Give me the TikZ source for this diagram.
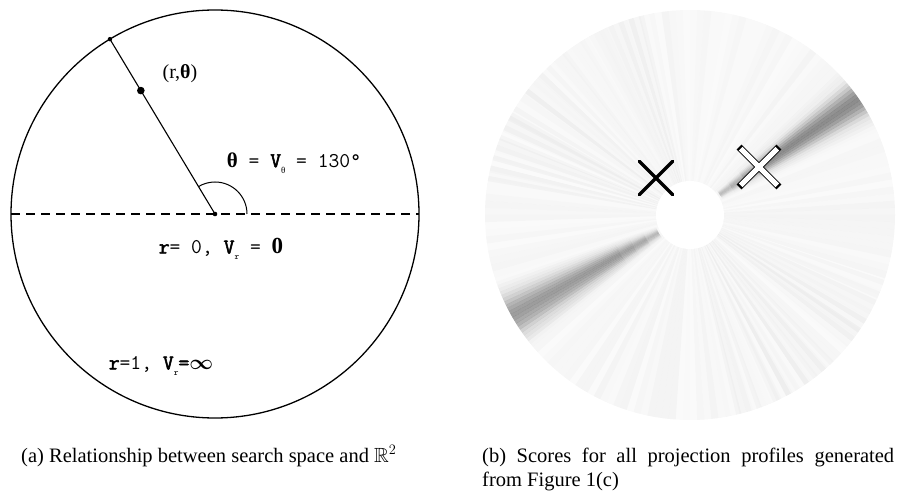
\documentclass[tikz,border=0pt]{standalone}
\usepackage{amsmath,amssymb}
\usepackage{fontspec}
\setmainfont{Liberation Serif}
\newfontfamily\ttheavy{Latin Modern Mono}[FakeBold=2.5]
\usetikzlibrary{shapes.misc}

% small lowered subscript and heavy letters for the mono labels
\newcommand{\lowsub}[1]{\raisebox{-0.7ex}{\fontsize{9}{9}\selectfont #1}}
\newcommand{\hv}[1]{{\ttheavy #1}}

\begin{document}
\begin{tikzpicture}[x=1pt, y=1pt,
  lbl/.style={inner sep=0pt, font=\fontsize{21}{24}\ttfamily},
  capt/.style={inner sep=0pt, font=\fontsize{20.5}{24.5}\selectfont},
  rim/.style={line width=1.3pt},
  axis/.style={line width=1.5pt, dash pattern=on 9pt off 6pt},
  xmark/.style={cross out, draw, inner sep=0pt, minimum size=30pt}
]
  \useasboundingbox (0,0) rectangle (899,493);

  % (a) search space
  \coordinate (o) at (215,279);
  \coordinate (w) at (11,279);
  \coordinate (e) at (419,279);
  \path (o) ++(121:204) coordinate (edge);
  \path (o) ++(121:144) coordinate (pt);

  \draw[rim] (o) circle (204);
  \draw[axis] (w) -- (e);
  \draw[line width=1.1pt] (o) -- (edge);
  \draw[line width=1pt] (o) ++(32,0) arc[start angle=0, end angle=121, radius=32];
  \fill (edge) circle (2.2);
  \fill (pt) circle (3.8);
  \fill (o) circle (2.3);

  \node[lbl, font=\fontsize{20}{22}\rmfamily] (ptlbl) at (180,419) {(r,\textbf{θ})};
  \node[lbl] (anglbl) at (294,330) {\textbf{\rmfamily θ} = \hv{V}\lowsub{\rmfamily θ} = 130°};
  \node[lbl] (zerolbl) at (221,244) {\hv{r}= 0, \hv{V}\lowsub{r} = {\rmfamily\bfseries\fontsize{23}{23}\selectfont 0}};
  \node[lbl] (onelbl) at (161,127) {\hv{r}=1, \hv{V}\lowsub{r}\hv{=}$\boldsymbol{\infty}$};

  % (b) scores
  \coordinate (c) at (690,278);
  \begin{scope}[shift={(c)}]
    \fill[black!2] (0,0) circle (205);
    % faint radial streaks
    \pgfmathsetseed{11}
    \foreach \a in {0,2,...,358}{
      \pgfmathsetmacro\op{0.025*rnd}
      \fill[black, opacity=\op] (0,0) -- (\a:205) arc[start angle=\a, end angle=\a+2, radius=205] -- cycle;
    }
    \foreach \a in {100,103,...,170, 280,283,...,340}{
      \pgfmathsetmacro\op{0.03*rnd}
      \fill[black, opacity=\op] (0,0) -- (\a:205) arc[start angle=\a, end angle=\a+1.5, radius=205] -- cycle;
    }
    % upper right band
    \foreach \d in {-9,...,9}{
      \pgfmathsetmacro\op{0.42*exp(-(\d/4.5)^2)}
      \foreach \ri/\ro/\f in {36/50/0.45, 50/65/0.6, 65/80/0.8, 80/205/1}{
        \fill[black, opacity=\f*\op] (34+\d:\ri) -- (34+\d:\ro) arc[start angle=34+\d, end angle=35+\d, radius=\ro]
          -- (35+\d:\ri) arc[start angle=35+\d, end angle=34+\d, radius=\ri] -- cycle;
      }
    }
    % lower left band
    \foreach \d in {-10,...,10}{
      \pgfmathsetmacro\op{0.36*exp(-(\d/5.5)^2)}
      \foreach \ri/\ro/\f in {36/50/0.6, 50/65/0.8, 65/80/0.9, 80/205/1}{
        \fill[black, opacity=\f*\op] (209+\d:\ri) -- (209+\d:\ro) arc[start angle=209+\d, end angle=210+\d, radius=\ro]
          -- (210+\d:\ri) arc[start angle=210+\d, end angle=209+\d, radius=\ri] -- cycle;
      }
    }
    \fill[white] (0,0) circle (34);
  \end{scope}

  \node[xmark, line width=3.5pt, line cap=round] (best) at (656,315) {};
  \node[xmark, line width=7pt, line cap=rect, minimum size=28pt] (peak) at (759,326) {};
  \node[xmark, line width=5pt, line cap=rect, minimum size=28pt, draw=white] (peakin) at (759,326) {};

  % captions
  \node[capt, anchor=base west] (capa) at (21,31) {(a) Relationship between search space and $\mathbb{R}^2$};
  \node[capt, anchor=base west, text width=412pt, align=justify] (capb) at (482,31)
    {(b) Scores for all projection profiles generated from Figure 1(c)};
\end{tikzpicture}
\end{document}
